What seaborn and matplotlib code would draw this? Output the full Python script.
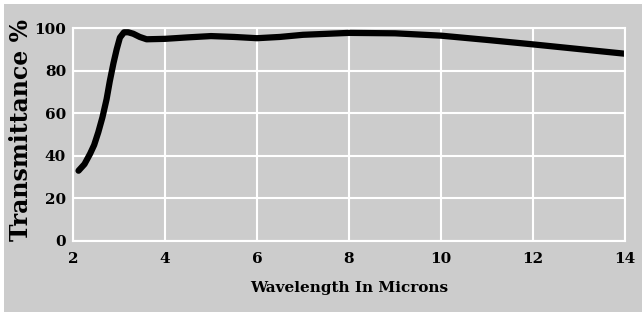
import numpy as np
import pandas as pd
import seaborn as sns
import matplotlib.pyplot as plt
from matplotlib.patches import Rectangle

# values
wavelength = [2.12, 2.25, 2.37, 2.46, 2.55, 2.64, 2.73, 2.80, 2.88, 2.95, 3.02, 3.11, 3.20, 3.31,
              3.45, 3.60, 4.0, 4.5, 5.0, 5.5, 6.0, 6.5, 7.0, 8.0, 9.0, 10.0, 11.0, 12.0, 13.0, 14.0]
transmittance = [32.9, 36.0, 40.8, 45.0, 51.0, 58.0, 66.5, 75.0, 83.5, 90.0, 95.5, 98.0, 98.0, 97.3,
                 95.8, 94.7, 94.9, 95.6, 96.2, 95.8, 95.2, 95.8, 96.8, 97.7, 97.5, 96.4, 94.4, 92.3, 90.1, 87.9]
x_ticks = [2, 4, 6, 8, 10, 12, 14]
y_ticks = [0, 20, 40, 60, 80, 100]

df = pd.DataFrame({'wl': wavelength, 't': transmittance})

bg = '#cccccc'
sns.set_style('whitegrid')
plt.rcParams['font.family'] = ['DejaVu Serif']
plt.rcParams['font.weight'] = 'bold'
plt.rcParams['text.color'] = 'black'
plt.rcParams['axes.labelcolor'] = 'black'

fig = plt.figure(figsize=(6.42, 3.12), dpi=100)
fig.patch.set_facecolor('white')
fig.patches.append(Rectangle((4 / 642, 0), 1, 308 / 312, transform=fig.transFigure,
                             facecolor=bg, edgecolor='none', zorder=-1))

ax = fig.add_axes([73 / 642, 71.3 / 312, 552 / 642, 212.7 / 312])
ax.set_facecolor(bg)
sns.lineplot(data=df, x='wl', y='t', ax=ax, color='black', linewidth=4.5, sort=False)

ax.set_xlim(2, 14)
ax.set_ylim(0, 100)
ax.set_xticks(x_ticks)
ax.set_yticks(y_ticks)
ax.grid(True, color='white', linewidth=1.5)
for s in ax.spines.values():
    s.set_color('white')
    s.set_linewidth(1.5)
ax.tick_params(axis='both', length=0, labelsize=11, colors='black')
ax.tick_params(axis='x', pad=8)
ax.tick_params(axis='y', pad=5)
ax.set_xlabel('Wavelength In Microns', fontsize=11, fontweight='bold', labelpad=11)
ax.set_ylabel('Transmittance %', fontsize=17, fontweight='bold')
ax.yaxis.set_label_coords(-0.072, 0.52)

fig.savefig('out.png', dpi=100, facecolor=fig.get_facecolor())
